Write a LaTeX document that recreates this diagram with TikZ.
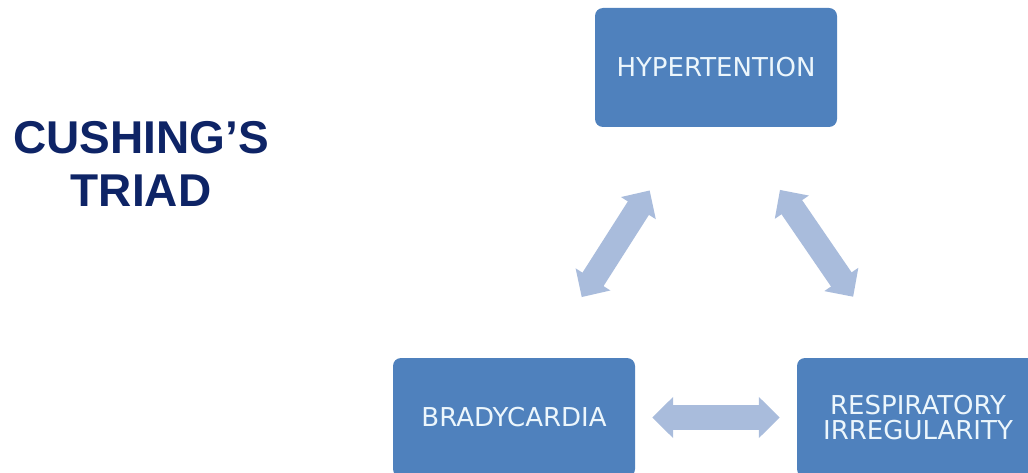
\documentclass[tikz,border=0pt]{standalone}
\usepackage{fontspec}
\setmainfont{DejaVu Sans}
\newfontfamily\titlefont{Liberation Sans}
\usetikzlibrary{arrows.meta}

\definecolor{boxblue}{RGB}{79,129,189}
\definecolor{arrowblue}{RGB}{169,188,220}
\definecolor{titlenavy}{RGB}{14,36,102}
\definecolor{boxtext}{RGB}{236,246,252}

\begin{document}
\begin{tikzpicture}[x=1pt,y=-1pt,
    sign/.style={fill=boxblue,rounded corners=8pt,minimum width=242pt,
      minimum height=119pt,inner sep=0pt,text=boxtext,align=center,
      font=\fontsize{26}{25}\selectfont},
    link/.style={arrowblue,line width=25pt,
      >={Triangle[length=21pt,width=40pt]},<->}]
    \useasboundingbox (0,0) rectangle (1028,473);
    \node[titlenavy,align=center,font=\titlefont\bfseries\fontsize{46}{53}\selectfont]
      (title) at (141,164) {CUSHING’S\\TRIAD};
    \node[sign] (hyper) at (716,67.5) {HYPERTENTION};
    \node[sign] (brady) at (514,417.5) {BRADYCARDIA};
    \node[sign] (resp) at (918,417.5) {RESPIRATORY\\IRREGULARITY};
    \path[link]
    ([xshift=29pt]brady.north) edge[shorten <=72pt,shorten >=75pt] ([xshift=-26pt]hyper.south);
    \path[link]
    ([xshift=21pt]hyper.south) edge[shorten <=76pt,shorten >=74pt] ([xshift=-23pt]resp.north);
    \path[link]
    (brady.east) edge[shorten <=17pt,shorten >=17pt] (resp.west);
  \end{tikzpicture}
\end{document}
